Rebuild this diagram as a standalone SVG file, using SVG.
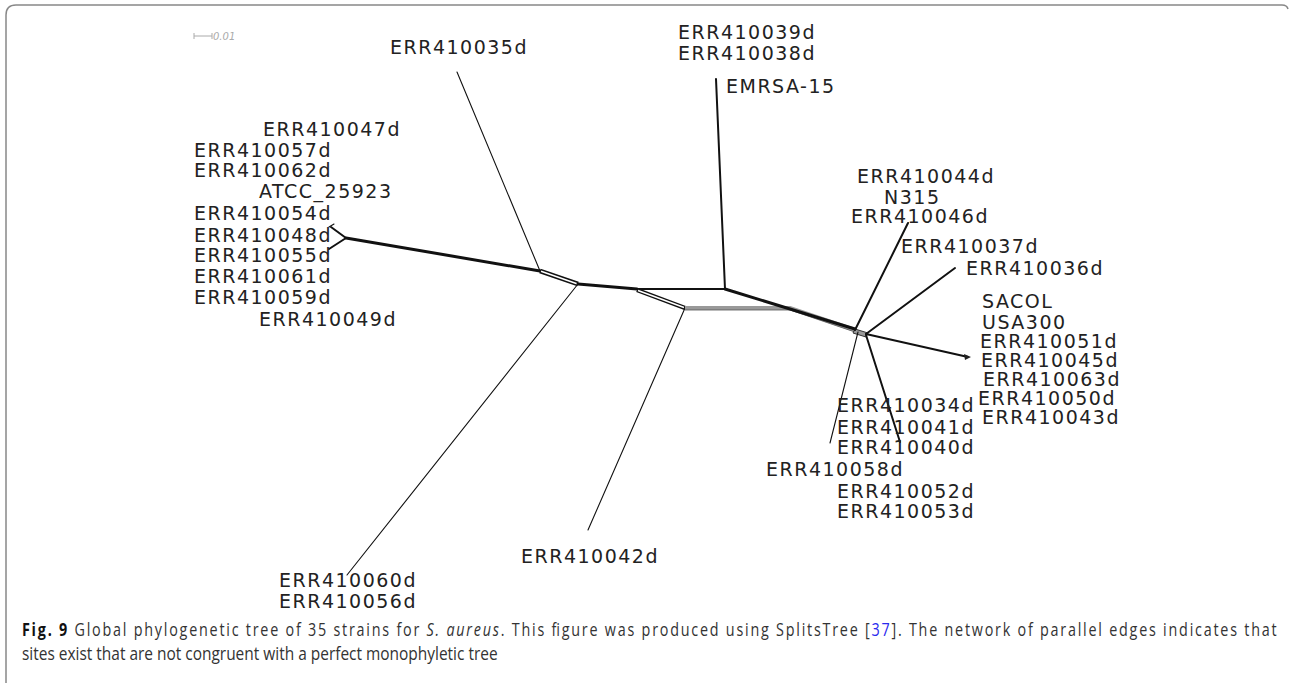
<svg xmlns="http://www.w3.org/2000/svg" width="1290" height="683" viewBox="0 0 1290 683">
<style>
.lbl{font-family:"DejaVu Sans",sans-serif;font-size:19px;letter-spacing:1.5px;fill:#222}
.e{fill:none;stroke:#111;stroke-linecap:round;stroke-linejoin:round}
.thin{stroke-width:1.1}
.mid{stroke-width:2}
.thick{stroke-width:3}
.dblo{fill:none;stroke:#111;stroke-width:4.5}
.dbli{fill:none;stroke:#fff;stroke-width:1.6}
.cap{font-family:"Open Sans","Noto Sans",sans-serif;font-size:17.5px;fill:#333}
</style>
<rect width="1290" height="683" fill="#fff"/>
<path d="M6,683 V15 Q6,5 16,5 H1282 Q1287,5 1288,9" fill="none" stroke="#888" stroke-width="1.5"/>
<g id="scale">
<path d="M194,36 H212 M194,33 V39 M212,33 V39" stroke="#aaa" stroke-width="1" fill="none"/>
<text x="213" y="40" font-family="DejaVu Sans,sans-serif" font-size="10" font-style="italic" fill="#aaa">0.01</text>
</g>
<g id="connectors">
<path class="e thick" d="M346,238 L540,271"/>
<path class="e mid" d="M346,238 L331,227 M346,238 L329,249"/>
<path class="e thin" d="M329,227 L334,224"/>
<path class="e thin" d="M540,271 L457,72"/>
<path class="dblo" d="M540,271 L578,284"/>
<path class="dbli" d="M541,271.3 L577,283.7"/>
<path class="e thin" d="M578,284 L347,575"/>
<path class="e thick" d="M578,284 L637,289"/>
<path class="e mid" d="M637,289 L725,289"/>
<path class="dblo" d="M637,290 L685,308"/>
<path class="dbli" d="M638,290.4 L684,307.6"/>
<path class="e mid" d="M725,289 L716,79"/>
<path class="e thin" d="M685,308 L588,530"/>
<path d="M685,308 L790,308 L855,330" fill="none" stroke="#999" stroke-width="4"/>
<path d="M685,310 L790,310 L855,332" fill="none" stroke="#555" stroke-width="0.8"/>
<path class="e thick" d="M725,289 L855,329"/>
<path d="M855,329 L868,333 L866,337 L853,333 Z" fill="#999" stroke="#333" stroke-width="1"/>
<path class="e mid" d="M855,330 L908,223"/>
<path class="e mid" d="M866,334 L955,268"/>
<path class="e mid" d="M866,334 L968,357"/>
<path d="M964,354 L971,357 L965,360 Z" fill="#222"/>
<path class="e mid" d="M866,335 L900,442"/>
<path class="e thin" d="M858,332 L830,443"/>
</g>
<g id="labels">
<text class="lbl" x="390" y="54">ERR410035d</text>
<text class="lbl" x="678" y="39">ERR410039d</text>
<text class="lbl" x="678" y="60">ERR410038d</text>
<text class="lbl" x="726" y="93">EMRSA-15</text>
<text class="lbl" x="263" y="136">ERR410047d</text>
<text class="lbl" x="194" y="157">ERR410057d</text>
<text class="lbl" x="194" y="177">ERR410062d</text>
<text class="lbl" x="259" y="198">ATCC_25923</text>
<text class="lbl" x="194" y="220">ERR410054d</text>
<text class="lbl" x="194" y="242">ERR410048d</text>
<text class="lbl" x="194" y="262">ERR410055d</text>
<text class="lbl" x="194" y="283">ERR410061d</text>
<text class="lbl" x="194" y="304">ERR410059d</text>
<text class="lbl" x="259" y="326">ERR410049d</text>
<text class="lbl" x="857" y="183">ERR410044d</text>
<text class="lbl" x="884" y="204">N315</text>
<text class="lbl" x="851" y="223">ERR410046d</text>
<text class="lbl" x="901" y="253">ERR410037d</text>
<text class="lbl" x="966" y="275">ERR410036d</text>
<text class="lbl" x="982" y="308">SACOL</text>
<text class="lbl" x="982" y="329">USA300</text>
<text class="lbl" x="980" y="348">ERR410051d</text>
<text class="lbl" x="981" y="367">ERR410045d</text>
<text class="lbl" x="983" y="386">ERR410063d</text>
<text class="lbl" x="978" y="405">ERR410050d</text>
<text class="lbl" x="982" y="424">ERR410043d</text>
<text class="lbl" x="837" y="412">ERR410034d</text>
<text class="lbl" x="837" y="434">ERR410041d</text>
<text class="lbl" x="837" y="454">ERR410040d</text>
<text class="lbl" x="766" y="476">ERR410058d</text>
<text class="lbl" x="837" y="498">ERR410052d</text>
<text class="lbl" x="837" y="518">ERR410053d</text>
<text class="lbl" x="521" y="563">ERR410042d</text>
<text class="lbl" x="279" y="587">ERR410060d</text>
<text class="lbl" x="279" y="608">ERR410056d</text>
</g>
<g id="caption" transform="scale(0.82,1)">
<text class="cap" x="26.8" y="636" textLength="1530" lengthAdjust="spacing"><tspan font-weight="bold" fill="#111">Fig. 9</tspan> Global phylogenetic tree of 35 strains for <tspan font-style="italic">S. aureus</tspan>. This figure was produced using SplitsTree [<tspan fill="#2a2aee">37</tspan>]. The network of parallel edges indicates that</text>
<text class="cap" x="26.8" y="660" textLength="580" lengthAdjust="spacingAndGlyphs">sites exist that are not congruent with a perfect monophyletic tree</text>
</g>
</svg>
